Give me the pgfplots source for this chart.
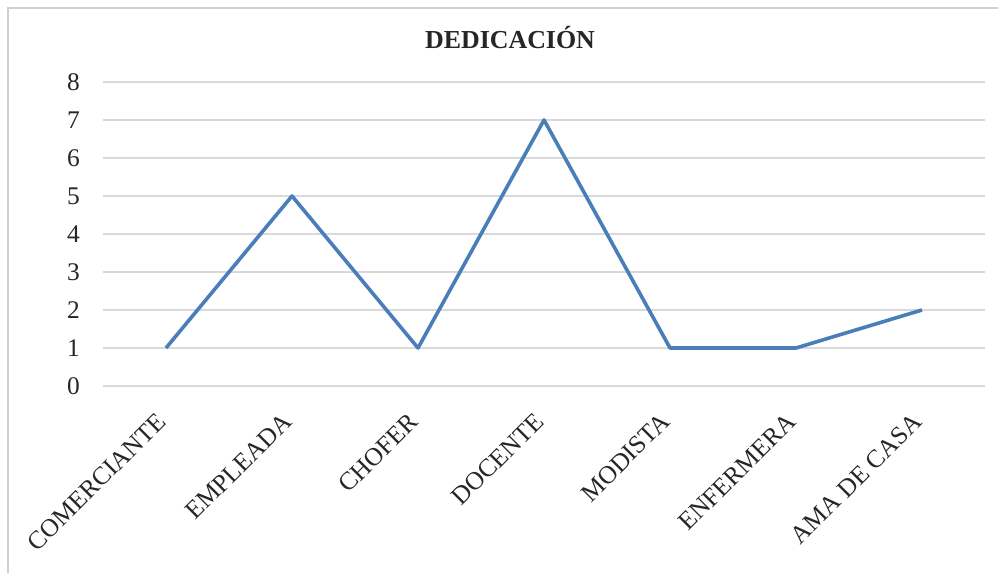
\documentclass[border=0pt]{standalone}
\usepackage{pgfplots}
\pgfplotsset{compat=1.18}
\usepackage{fontspec}
\setmainfont{Liberation Serif}
\definecolor{lineblue}{HTML}{4A7EBB}
\definecolor{gridgray}{HTML}{D9D9D9}
\definecolor{framegray}{HTML}{D0D0D0}
\definecolor{txt}{HTML}{262626}
\begin{document}
\begin{tikzpicture}[x=1bp,y=1bp]
\fill[white] (0,0) rectangle (998,573);
\draw[framegray, line width=1.5bp] (8,-20) -- (8,565) -- (1020,565);
\begin{axis}[
  at={(103bp,187bp)}, anchor=south west,
  scale only axis, width=882bp, height=304bp,
  xmin=-0.5, xmax=6.5, ymin=0, ymax=8,
  axis line style={draw=none},
  major tick length=0pt,
  ytick={0,1,...,8},
  xtick={0,1,2,3,4,5,6},
  xticklabels={COMERCIANTE,EMPLEADA,CHOFER,DOCENTE,MODISTA,ENFERMERA,AMA DE CASA},
  ymajorgrids, grid style={gridgray, line width=1.5bp},
  /pgf/number format/assume math mode=true,
  tick label style={font=\fontsize{25.5}{29}\selectfont, text=txt},
  yticklabel style={inner sep=0pt, xshift=-23bp},
  xticklabel style={rotate=45, anchor=east, inner sep=0pt, xshift=-25bp, yshift=-19bp},
  clip=false,
]
\addplot[lineblue, line width=3.6bp, line join=round] coordinates {(0,1) (1,5) (2,1) (3,7) (4,1) (5,1) (6,2)};
\end{axis}
\node[font=\bfseries\fontsize{26}{30}\selectfont, text=txt, anchor=base] at (510,524) {DEDICACIÓN};
\pgfresetboundingbox
\useasboundingbox (0,0) rectangle (998,573);
\end{tikzpicture}
\end{document}
